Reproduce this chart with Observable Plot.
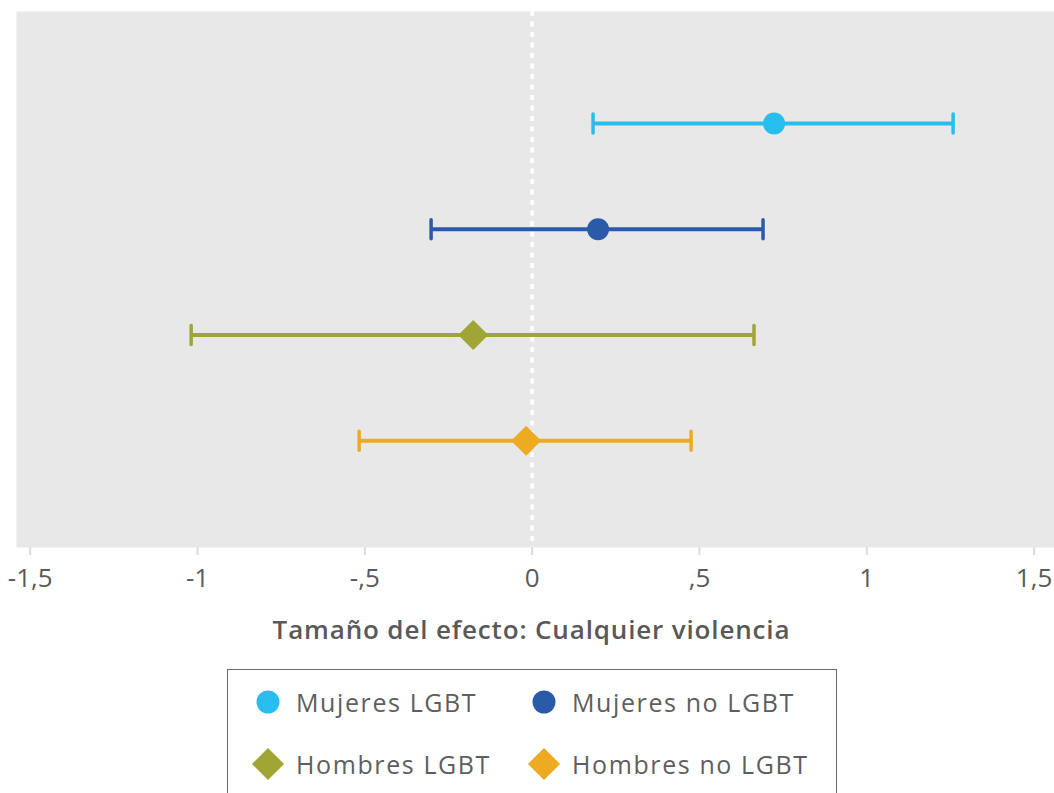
<!DOCTYPE html>
<html>
<head>
<meta charset="utf-8">
<script src="https://cdn.jsdelivr.net/npm/d3@7"></script>
<script src="https://cdn.jsdelivr.net/npm/@observablehq/plot@0.6"></script>
<style>
  html, body { margin: 0; padding: 0; background: #fff; }
  body { width: 1054px; height: 793px; overflow: hidden; font-family: "Open Sans", sans-serif; }
  #legend {
    position: absolute; left: 227px; top: 669px; width: 610px; height: 150px;
    box-sizing: border-box; border: 1.3px solid #6b6b6b; background: #fff;
  }
  .item { position: absolute; display: flex; align-items: center; font-size: 25px; letter-spacing: 1.6px; color: #5e5e5e; white-space: nowrap; }
  .item svg { margin-right: 10px; }
</style>
</head>
<body>
<div id="chart"></div>
<div id="legend"></div>
<script>
const categories = ["Mujeres LGBT", "Mujeres no LGBT", "Hombres LGBT", "Hombres no LGBT"];
const estimates = [0.723, 0.197, -0.176, -0.018];
const lower = [0.182, -0.302, -1.019, -0.517];
const upper = [1.258, 0.690, 0.663, 0.475];
const shapes = ["circle", "circle", "diamond2", "diamond2"];
const colors = ["#27BDEE", "#2B5BA8", "#A0A536", "#EEAB22"];
const tickValues = [-1.5, -1, -0.5, 0, 0.5, 1, 1.5];
const tickLabels = ["-1,5", "-1", "-,5", "0", ",5", "1", "1,5"];
const axisTitle = "Tamaño del efecto: Cualquier violencia";

const data = categories.map((c, i) => ({
  cat: c, row: i + 1, est: estimates[i], lo: lower[i], hi: upper[i], shape: shapes[i], color: colors[i]
}));

const capSymbol = {
  draw(ctx, size) {
    const h = Math.sqrt(size / Math.PI);
    ctx.moveTo(0, -h);
    ctx.lineTo(0, h);
  }
};

const chart = Plot.plot({
  width: 1054,
  height: 660,
  marginLeft: 16,
  marginRight: 0,
  marginTop: 11,
  marginBottom: 113,
  style: { fontFamily: "Open Sans, sans-serif", background: "#fff" },
  x: { domain: [-1.541, 1.561] },
  y: { domain: [-0.06, 5.01], reverse: true, axis: null },
  marks: [
    Plot.frame({ fill: "#E8E8E8", stroke: null }),
    Plot.ruleX([0], { stroke: "#fff", strokeWidth: 3.5, strokeDasharray: "5,5.5" }),
    Plot.ruleY(data, { y: "row", x1: "lo", x2: "hi", stroke: "color", strokeWidth: 4 }),
    Plot.dot(data, { x: "lo", y: "row", symbol: capSymbol, r: 9.5, stroke: "color", strokeWidth: 3.5, strokeLinecap: "round" }),
    Plot.dot(data, { x: "hi", y: "row", symbol: capSymbol, r: 9.5, stroke: "color", strokeWidth: 3.5, strokeLinecap: "round" }),
    Plot.dot(data.filter(d => d.shape === "circle"), { x: "est", y: "row", symbol: "circle", r: 11, fill: "color", stroke: null }),
    Plot.dot(data.filter(d => d.shape === "diamond2"), { x: "est", y: "row", symbol: "diamond2", r: 13.5, fill: "color", stroke: null }),
    Plot.axisX({
      ticks: tickValues,
      tickFormat: (d) => tickLabels[tickValues.indexOf(d)],
      tickSize: 8,
      tickPadding: 13,
      stroke: "#DCDCDC",
      strokeWidth: 2,
      fontSize: 26,
      color: "#5a5a5a",
      label: null
    }),
    Plot.text([axisTitle], {
      frameAnchor: "bottom", dy: 83, text: d => d,
      fontSize: 26, fontWeight: 600, fill: "#595959", lineAnchor: "middle",
      dx: -4
    })
  ]
});
document.getElementById("chart").appendChild(chart);
chart.querySelectorAll("text").forEach(t => {
  if (t.textContent === axisTitle) t.setAttribute("letter-spacing", "0.85");
});

// legend
const legend = document.getElementById("legend");
const positions = [[22, 32], [298, 32], [22, 94], [298, 94]];
categories.forEach((c, i) => {
  const div = document.createElement("div");
  div.className = "item";
  div.style.left = positions[i][0] + "px";
  div.style.top = (positions[i][1] - 18) + "px";
  const size = 36;
  const svg = d3.create("svg").attr("width", size).attr("height", size);
  const sym = shapes[i] === "circle" ? d3.symbolCircle : d3.symbolDiamond2;
  const area = shapes[i] === "circle" ? Math.PI * 11.5 * 11.5 : Math.PI * 14.5 * 14.5;
  svg.append("path")
    .attr("transform", `translate(${size / 2},${size / 2})`)
    .attr("d", d3.symbol(sym, area)())
    .attr("fill", colors[i]);
  div.appendChild(svg.node());
  const span = document.createElement("span");
  span.textContent = c;
  div.appendChild(span);
  legend.appendChild(div);
});
</script>
</body>
</html>
